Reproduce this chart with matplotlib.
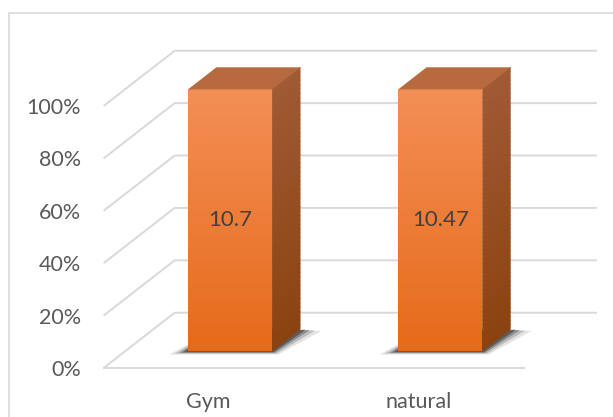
import numpy as np
import matplotlib
matplotlib.use("Agg")
from matplotlib import pyplot as plt
from matplotlib.patches import Rectangle, Polygon
from matplotlib.colors import to_rgb

# data
categories = ["Gym", "natural"]
values = [10.7, 10.47]
tick_values = [0, 20, 40, 60, 80, 100]
tick_labels = ["0%", "20%", "40%", "60%", "80%", "100%"]

# 100% stacked column: every single-series bar is full height
shares = [v / v * 100 for v in values]

plt.rcParams['font.family'] = ['Lato', 'DejaVu Sans']
text_col = "#595959"
grid_col = "#D9D9D9"

fig = plt.figure(figsize=(6.13, 4.17), dpi=100)
fig.patches.append(Rectangle((8.5 / 613, -0.2), 1.2, 1.2 - 12.7 / 417,
                             transform=fig.transFigure, fill=False,
                             edgecolor=grid_col, lw=1.2))

ax = fig.add_axes([103.6 / 613, 49 / 417, 420.4 / 613, 262 / 417])
ax.set_xlim(0, len(categories))
ax.set_ylim(0, 100)
for s in ax.spines.values():
    s.set_visible(False)
ax.patch.set_alpha(0)

# oblique depth offset (full floor depth) in data units
DX, DY = 0.338, 21.1
x_back_end = 2.347

# walls / gridlines
for v in tick_values:
    ax.plot([0, DX, x_back_end], [v, v + DY, v + DY], color=grid_col, lw=1.4,
            clip_on=False, zorder=1, solid_capstyle='butt')
ax.plot([0, len(categories)], [0, 0], color=grid_col, lw=1.4, clip_on=False, zorder=1)


def blend(c1, c2, t):
    a, b = np.array(to_rgb(c1)), np.array(to_rgb(c2))
    return a + (b - a) * t


width = 0.4
z0, z1 = 0.3, 0.7
n = 60
for i, (cat, h, val) in enumerate(zip(categories, shares, values)):
    c = i + 0.5
    xl, xr = c - width / 2, c + width / 2
    fx0, fy0 = z0 * DX, z0 * DY
    bx0, by0 = z1 * DX, z1 * DY

    # soft shadow on the floor
    for k, a in zip([0.10, 0.07, 0.045, 0.025], [0.12, 0.2, 0.3, 0.45]):
        poly = [(xl + fx0 - k * 0.9, fy0 - k * 12), (xr + fx0 + k * 0.3, fy0 - k * 12),
                (xr + bx0 + k * 1.0, by0 - k * 6), (xl + bx0, by0)]
        ax.add_patch(Polygon(poly, closed=True, facecolor="#202020", alpha=a,
                             edgecolor="none", clip_on=False, zorder=2))

    # front face gradient
    for j in range(n):
        y_a = fy0 + h * j / n
        y_b = fy0 + h * (j + 1) / n
        col = blend("#E56A19", "#F38E56", (j + 0.5) / n)
        ax.add_patch(Rectangle((xl + fx0, y_a), width, y_b - y_a + 0.3,
                               facecolor=col, edgecolor="none", clip_on=False, zorder=4))

    # side face gradient
    for j in range(n):
        t0, t1 = j / n, (j + 1) / n
        col = blend("#8A420F", "#A05A34", (j + 0.5) / n)
        poly = [(xr + fx0, fy0 + h * t0), (xr + bx0, by0 + h * t0),
                (xr + bx0, by0 + h * t1 + 0.3), (xr + fx0, fy0 + h * t1 + 0.3)]
        ax.add_patch(Polygon(poly, closed=True, facecolor=col, edgecolor="none",
                             clip_on=False, zorder=4))

    # top face
    top = [(xl + fx0, fy0 + h), (xr + fx0, fy0 + h), (xr + bx0, by0 + h), (xl + bx0, by0 + h)]
    ax.add_patch(Polygon(top, closed=True, facecolor="#B76A40", edgecolor="none",
                         clip_on=False, zorder=5))

    ax.text(c + fx0, fy0 + h / 2, str(val), ha="center", va="center",
            fontsize=16, color="#404040", zorder=6)

ax.set_yticks(tick_values)
ax.set_yticklabels(tick_labels)
ax.set_xticks([i + 0.5 for i in range(len(categories))])
ax.set_xticklabels(categories)
ax.tick_params(axis="y", length=0, pad=16.3, labelsize=15.5, labelcolor=text_col)
ax.tick_params(axis="x", length=0, pad=17, labelsize=15.5, labelcolor=text_col)

fig.savefig("out.png", dpi=100)
